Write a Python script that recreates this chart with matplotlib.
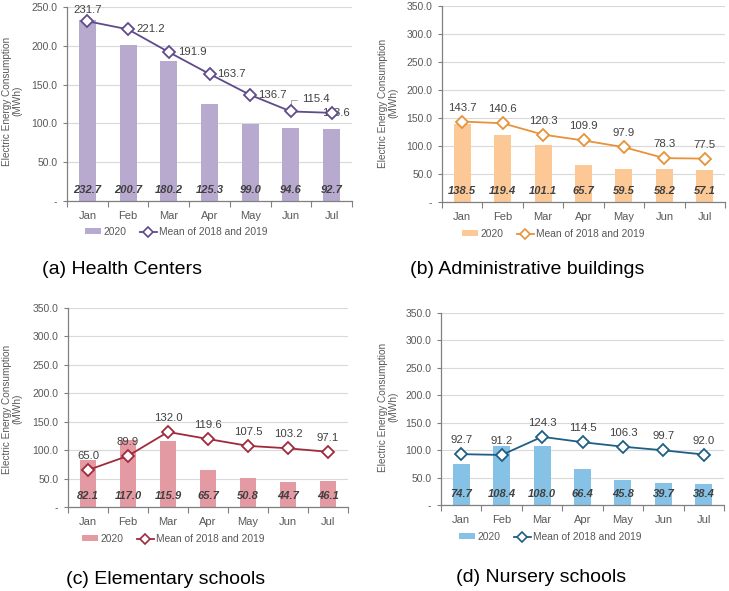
import matplotlib
matplotlib.use("Agg")
import matplotlib.pyplot as plt
from matplotlib.ticker import FixedLocator, FuncFormatter
from matplotlib.lines import Line2D
from matplotlib.patches import Patch
import matplotlib.transforms as mtransforms

plt.rcParams['font.family'] = ['Liberation Sans', 'DejaVu Sans']

months = ["Jan", "Feb", "Mar", "Apr", "May", "Jun", "Jul"]

health_2020 = [232.7, 200.7, 180.2, 125.3, 99.0, 94.6, 92.7]
health_mean = [231.7, 221.2, 191.9, 163.7, 136.7, 115.4, 113.6]

admin_2020 = [138.5, 119.4, 101.1, 65.7, 59.5, 58.2, 57.1]
admin_mean = [143.7, 140.6, 120.3, 109.9, 97.9, 78.3, 77.5]

elem_2020 = [82.1, 117.0, 115.9, 65.7, 50.8, 44.7, 46.1]
elem_mean = [65.0, 89.9, 132.0, 119.6, 107.5, 103.2, 97.1]

nurs_2020 = [74.7, 108.4, 108.0, 66.4, 45.8, 39.7, 38.4]
nurs_mean = [92.7, 91.2, 124.3, 114.5, 106.3, 99.7, 92.0]

captions = ["(a) Health Centers", "(b) Administrative buildings",
            "(c) Elementary schools", "(d) Nursery schools"]
legend_labels = ["2020", "Mean of 2018 and 2019"]
ylabel = "Electric Energy Consumption\n(MWh)"

W, H = 729, 591
fig = plt.figure(figsize=(W / 100, H / 100), dpi=100)

def px_rect(l, t, r, b):
    return [l / W, 1 - b / H, (r - l) / W, (b - t) / H]

panels = [
    dict(rect=px_rect(67, 7, 352, 201), bars=health_2020, line=health_mean,
         ymax=250, bar_c="#b8a9cf", line_c="#5f4b8b",
         cap=(122, 270), leg=(176, 232), ylab=(12, 101),
         offs=[(0, 11, 'center'), (8, 0, 'left'), (9, 0, 'left'), (8, 0, 'left'),
               (8, 0, 'left'), (11, 12, 'left'), (-10, 0, 'left')]),
    dict(rect=px_rect(442, 6, 725, 202), bars=admin_2020, line=admin_mean,
         ymax=350, bar_c="#fcc896", line_c="#e8923a",
         cap=(527, 270), leg=(553, 234), ylab=(388, 103), offs=None),
    dict(rect=px_rect(68, 308, 348, 507), bars=elem_2020, line=elem_mean,
         ymax=350, bar_c="#e49aa3", line_c="#a02a3c",
         cap=(166, 580), leg=(173, 539), ylab=(12, 409), offs=None),
    dict(rect=px_rect(441, 313, 724, 505), bars=nurs_2020, line=nurs_mean,
         ymax=350, bar_c="#86c1e6", line_c="#1f5f85",
         cap=(541, 577), leg=(550, 537), ylab=(388, 407), offs=None),
]

tick_c = "#595959"
x = list(range(len(months)))

for i, p in enumerate(panels):
    ax = fig.add_axes(p["rect"])
    ax.bar(x, p["bars"], width=0.42, color=p["bar_c"], zorder=2)
    ax.plot(x, p["line"], color=p["line_c"], lw=1.3, marker="D", ms=6.5,
            mfc="white", mec=p["line_c"], mew=1.3, zorder=4)
    ax.set_xlim(-0.5, len(months) - 0.5)
    ax.set_ylim(0, p["ymax"])
    yt = list(range(0, p["ymax"] + 1, 50))
    ax.set_yticks(yt)
    ax.yaxis.set_major_formatter(FuncFormatter(lambda v, pos: "-" if v == 0 else f"{v:.1f}"))
    ax.set_xticks(x)
    ax.set_xticklabels(months)
    ax.xaxis.set_minor_locator(FixedLocator([k - 0.5 for k in range(len(months) + 1)]))
    ax.tick_params(axis='x', which='major', length=0, pad=7, labelsize=8, labelcolor=tick_c)
    ax.tick_params(axis='x', which='minor', length=4, color="#808080", width=0.8)
    ax.tick_params(axis='y', which='major', length=3, color="#808080", width=0.8,
                   labelsize=7.5, labelcolor=tick_c, pad=4)
    for s in ["top", "right"]:
        ax.spines[s].set_visible(False)
    for s in ["left", "bottom"]:
        ax.spines[s].set_color("#808080")
        ax.spines[s].set_linewidth(0.9)
    ax.grid(axis='y', color="#d9d9d9", lw=0.8, zorder=0)
    ax.set_axisbelow(True)

    yx, yy = p["ylab"]
    fig.text(yx / W, 1 - yy / H, ylabel, rotation=90, ha="center", va="center",
             fontsize=7.2, color=tick_c, linespacing=1.0, multialignment="center")

    # bar labels near the base
    trans = mtransforms.blended_transform_factory(ax.transData, ax.transAxes)
    for xi, v in zip(x, p["bars"]):
        ax.text(xi, 0.055, f"{v:.1f}", transform=trans, ha="center", va="center",
                fontsize=8, fontweight="bold", fontstyle="italic", color="#404040", zorder=5)

    # line labels
    for k, (xi, v) in enumerate(zip(x, p["line"])):
        if p["offs"] is None:
            dx, dy, ha = 0, 14, 'center'
        else:
            dx, dy, ha = p["offs"][k]
        ax.annotate(f"{v:.1f}", (xi, v), xytext=(dx * 0.72, dy * 0.72),
                    textcoords="offset points", ha=ha, va="center",
                    fontsize=8.2, color="#404040", zorder=3)
    if i == 0:
        ax.annotate("", (5, p["line"][5]), xytext=(9 * 0.72, 11 * 0.72),
                    textcoords="offset points",
                    arrowprops=dict(arrowstyle="-", color="#a6a6a6", lw=0.7,
                                    connectionstyle="angle,angleA=0,angleB=90"))

    handles = [Patch(facecolor=p["bar_c"], edgecolor="none"),
               Line2D([], [], color=p["line_c"], lw=1.3, marker="D", ms=5.5,
                      mfc="white", mec=p["line_c"], mew=1.2)]
    lx, ly = p["leg"]
    fig.legend(handles, legend_labels, loc="center", bbox_to_anchor=(lx / W, 1 - ly / H),
               ncol=2, frameon=False, fontsize=7.4, labelcolor=tick_c,
               handlelength=1.6, handleheight=0.55, handletextpad=0.2, columnspacing=1.35,
               borderpad=0)

    cx, cy = p["cap"]
    fig.text(cx / W, 1 - cy / H, captions[i], ha="center", va="center",
             fontsize=14, color="#000000")

fig.savefig("out.png", dpi=100)
